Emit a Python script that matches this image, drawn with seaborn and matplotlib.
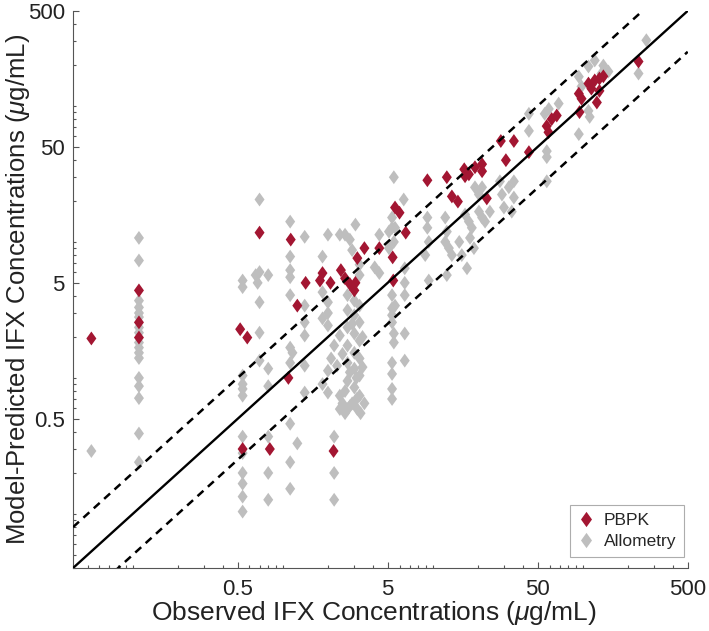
import numpy as np
import pandas as pd
import seaborn as sns
import matplotlib.pyplot as plt
from matplotlib.path import Path
from matplotlib.lines import Line2D
from matplotlib.ticker import FixedLocator, NullFormatter

# PBPK model (observed, predicted) in ug/mL
pbpk_obs = [0.053, 0.11, 0.11, 0.11, 0.52, 0.58, 0.70, 0.54, 0.82, 1.09,
            5.6, 6.0, 6.6, 1.13, 3.5, 4.4, 3.14, 5.4, 5.45, 1.84,
            1.77, 2.08, 2.44, 2.6, 2.8, 3.05, 3.0, 1.42, 1.25, 2.18,
            9.2, 12.4, 13.4, 14.7, 16.2, 17.4, 19.1, 21.3, 21.3, 16.4,
            22.9, 28.4, 34.7, 30.7, 43.7, 57.4, 62, 67, 59, 94,
            98, 109, 120, 129, 137, 114, 129, 124, 95, 235]
pbpk_pred = [1.95, 4.4, 2.56, 1.98, 2.28, 1.98, 11.7, 0.30, 0.30, 1.0,
             17.9, 16.4, 11.7, 10.4, 9.0, 9.0, 7.6, 7.7, 5.2, 5.9,
             5.2, 5.0, 6.2, 5.4, 4.9, 5.0, 4.4, 5.0, 3.4, 0.29,
             28.4, 29.9, 21.6, 19.8, 34.2, 31.4, 35.4, 37.3, 33.1, 30.4,
             20.9, 55.2, 55.2, 39.9, 45.7, 71, 80, 85, 64, 123,
             113, 146, 154, 159, 165, 134, 129, 106, 90, 212]

# Allometry model
allo_obs = ([0.053] + [0.11] * 17 + [0.54] * 12
            + [0.70, 0.66, 0.70, 0.68, 0.70, 0.70, 0.70]
            + [0.80] * 6
            + [1.12, 1.12, 1.12, 1.12, 1.12, 1.12, 1.16, 1.12, 1.12, 1.12, 1.12, 1.25]
            + [1.4] * 6
            + [2.0, 1.84, 1.84, 2.0, 2.0, 1.84, 2.0, 2.4, 2.2, 2.1, 2.3, 2.0, 1.84, 2.0,
               2.4, 2.5, 2.4, 2.6, 2.2, 2.2, 2.2]
            + [2.4, 2.6, 2.8, 3.05, 2.9, 3.25, 3.25, 2.7, 3.0, 3.25, 2.7, 3.0, 3.25, 2.7,
               3.0, 3.25, 2.7, 3.0, 3.25, 2.7, 3.0, 3.25, 2.7, 3.0, 3.25, 2.9, 3.5, 2.7, 3.14]
            + [3.1, 2.8, 3.4, 2.6, 3.1, 2.8, 3.3, 2.5, 3.4, 2.9]
            + [4.4, 4.1, 4.4, 5.35, 6.4, 5.35, 5.5, 5.1, 5.6, 5.5, 5.1, 6.5, 6.5, 5.35,
               5.6, 5.35, 5.35, 5.35, 6.5, 5.5, 6.5, 5.5, 5.35, 6.5, 5.35, 5.35, 5.35]
            + [9.2, 9.2, 9.4, 8.9, 9.4]
            + [12.1, 12.4, 12.1, 12.8, 13.4, 15, 15.6, 12.4, 16.9]
            + [16.4, 17.4, 18.2, 17.7, 18.8, 20.3, 21.3, 20.3, 21.3, 19.1, 22.3, 24]
            + [28, 28.9, 29.8, 32.1, 34.7, 34.7, 33.6]
            + [43.7, 43.7, 55.7, 57.5, 57.5, 59.3, 69, 57.5]
            + [94, 98, 109, 94, 109, 120, 137, 133, 148, 111]
            + [235, 265])
allo_pred = ([0.29]
             + [10.7, 7.3, 3.7, 3.3, 3.0, 2.8, 2.35, 2.15, 1.82, 1.67, 1.53, 1.40, 1.0,
                0.87, 0.71, 0.39, 0.24]
             + [5.2, 4.65, 1.04, 0.9, 0.83, 0.74, 0.37, 0.28, 0.20, 0.167, 0.134, 0.104]
             + [20.5, 5.7, 6.0, 5.0, 3.6, 2.15, 1.34]
             + [5.7, 1.17, 0.87, 0.37, 0.20, 0.127]
             + [14.1, 7.8, 6.2, 5.5, 4.06, 1.67, 1.53, 1.29, 0.46, 0.24, 0.153, 0.33]
             + [10.9, 3.4, 2.56, 2.05, 1.23, 0.78]
             + [11.3, 7.8, 4.27, 3.6, 3.0, 2.74, 2.43, 2.05, 1.73, 1.39, 1.23, 1.13, 0.9,
                0.78, 0.74, 0.65, 0.59, 0.55, 0.37, 0.20, 0.127]
             + [11.3, 11.3, 10.4, 13.4, 8.7, 6.8, 5.7, 4.06, 3.7, 3.4, 3.15, 2.89, 2.56,
                2.35, 2.12, 1.88, 1.73, 1.53, 1.39, 1.29, 1.17, 1.04, 0.95, 0.85, 0.74,
                0.65, 0.65, 0.59, 0.59]
             + [1.0, 1.1, 1.2, 0.8, 0.7, 0.62, 0.55, 1.5, 2.0, 2.5]
             + [11.3, 6.5, 5.9, 12.7, 20.5, 15.1, 29.9, 11.9, 12.7, 10.0, 9.0, 6.4, 5.0,
                4.06, 3.4, 2.89, 3.25, 2.56, 4.06, 2.12, 2.12, 1.82, 1.29, 1.34, 1.07,
                0.83, 0.70]
             + [15.1, 12.7, 10.0, 8.0, 5.2]
             + [15.1, 11.9, 10.0, 9.0, 8.0, 10.0, 8.0, 5.7, 6.4]
             + [15.9, 14.1, 12.7, 10.7, 9.0, 16.7, 15.1, 22.3, 25.2, 25.2, 14.1, 16.7]
             + [27.9, 22.3, 17.9, 25.2, 27.9, 21.2, 16.7]
             + [87.5, 65.5, 87.5, 46.5, 42, 95, 104, 27.9]
             + [164, 139, 92, 62, 195, 216, 198, 173, 179, 83]
             + [173, 304])

models = ['PBPK', 'Allometry']
colors = {'PBPK': '#A31632', 'Allometry': '#BEBEBE'}
ticks = [0.5, 5, 50, 500]
tick_labels = ['0.5', '5', '50', '500']
fold = [1, 2, 0.5]
lim = [0.04, 500]

sns.set_style('ticks')
plt.rcParams['font.family'] = ['Liberation Sans', 'DejaVu Sans']
plt.rcParams['mathtext.fontset'] = 'custom'
plt.rcParams['mathtext.it'] = 'Liberation Sans:italic'
plt.rcParams['mathtext.rm'] = 'Liberation Sans'

# allometry first so the PBPK diamonds sit on top
df = pd.concat([
    pd.DataFrame({'obs': allo_obs, 'pred': allo_pred, 'model': 'Allometry'}),
    pd.DataFrame({'obs': pbpk_obs, 'pred': pbpk_pred, 'model': 'PBPK'}),
], ignore_index=True)

diamond = Path([(0, 1), (0.72, 0), (0, -1), (-0.72, 0), (0, 1)],
               [Path.MOVETO, Path.LINETO, Path.LINETO, Path.LINETO, Path.CLOSEPOLY])

fig = plt.figure(figsize=(7.09, 6.31), dpi=100)
ax = fig.add_axes([0.103, 0.0998, 0.867, 0.883])

sns.scatterplot(data=df, x='obs', y='pred', hue='model', hue_order=models,
                palette=colors, marker=diamond, s=100, linewidth=0,
                legend=False, ax=ax, zorder=2)

for f in fold:
    if f == 1:
        ax.plot(lim, [v * f for v in lim], color='black', lw=1.7, zorder=3)
    else:
        ax.plot(lim, [v * f for v in lim], color='black', lw=1.8,
                dashes=(3.2, 2.4), zorder=3)

ax.set_xscale('log')
ax.set_yscale('log')
ax.set_xlim(lim)
ax.set_ylim(lim)

minor = [n * 10.0 ** k for k in range(-2, 3) for n in range(1, 10)]
minor = [m for m in minor if lim[0] <= m <= lim[1] and m not in ticks]
for axis in (ax.xaxis, ax.yaxis):
    axis.set_major_locator(FixedLocator(ticks))
    axis.set_minor_locator(FixedLocator(minor))
    axis.set_minor_formatter(NullFormatter())
ax.set_xticklabels(tick_labels)
ax.set_yticklabels(tick_labels)

ax.tick_params(which='major', direction='in', length=4.5, width=0.8,
               color='#555555', labelsize=16, labelcolor='#222222')
ax.tick_params(which='minor', direction='in', length=2.5, width=0.8, color='#555555')
ax.tick_params(axis='x', which='major', pad=8)
ax.tick_params(axis='y', which='major', pad=6)
sns.despine(ax=ax)
for sp in ('left', 'bottom'):
    ax.spines[sp].set_color('#555555')
    ax.spines[sp].set_linewidth(0.8)

ax.set_xlabel(r'Observed IFX Concentrations ($\mu$g/mL)', fontsize=19, color='#222222')
ax.set_ylabel(r'Model-Predicted IFX Concentrations ($\mu$g/mL)', fontsize=18.5, color='#222222')
ax.xaxis.set_label_coords(0.49, -0.055)
ax.yaxis.set_label_coords(-0.066, 0.5)

handles = [Line2D([], [], ls='', marker=diamond, markersize=11, markeredgewidth=0,
                  color=colors[m], label=m) for m in models]
leg = ax.legend(handles=handles, loc='lower right', bbox_to_anchor=(0.994, 0.02),
                borderaxespad=0, fontsize=12.5, frameon=True, fancybox=False,
                handletextpad=0.5, borderpad=0.45, labelspacing=0.35, handlelength=1.0)
leg.get_frame().set_edgecolor('#999999')
leg.get_frame().set_linewidth(0.8)

fig.savefig('out.png', dpi=100)
